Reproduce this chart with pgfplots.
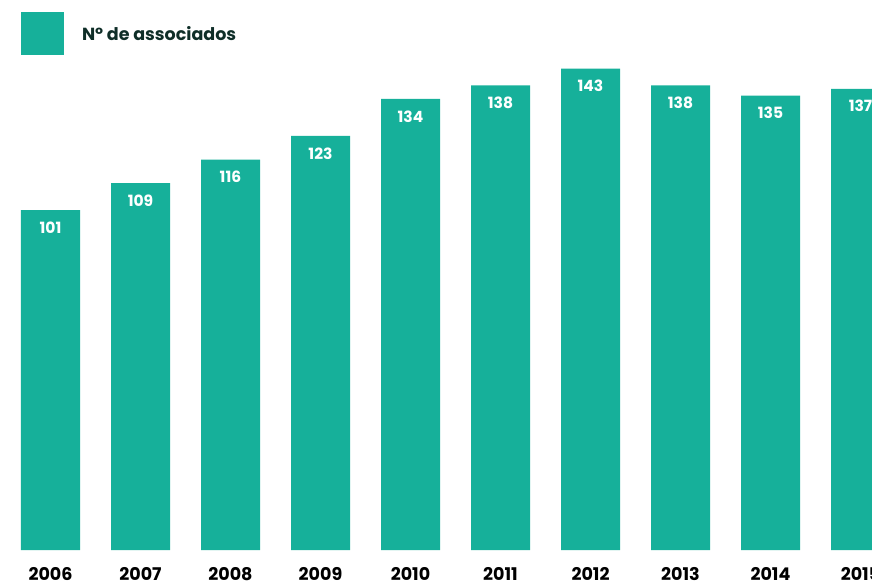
\documentclass[border=0pt]{standalone}
\usepackage{fontspec}
\setmainfont{Poppins}
\usepackage{pgfplots}
\pgfplotsset{compat=1.18}
\definecolor{barteal}{HTML}{16B09A}
\definecolor{legtext}{HTML}{0F2E28}

\begin{document}
\begin{tikzpicture}
  % frame of the (cropped) reference, 1pt = 1px
  \useasboundingbox (0,0) rectangle (872pt,586pt);
  \clip (0,0) rectangle (872pt,586pt);
  \begin{axis}[
    at={(50.5pt,36pt)}, anchor=origin,
    x=90pt, y=3.366pt,
    xmin=-0.6, xmax=9.6,
    ymin=0, ymax=150,
    ybar, bar width=59pt,
    axis line style={draw=none},
    major tick style={draw=none},
    ytick=\empty,
    xtick=data,
    xticklabels={2006,2007,2008,2009,2010,2011,2012,2013,2014,2015},
    xticklabel style={font=\fontsize{17.5}{20}\selectfont\bfseries, anchor=north,
      inner sep=0pt, yshift=-12.5pt, text=black},
    /pgf/number format/assume math mode=true,
    nodes near coords,
    every node near coord/.append style={font=\fontsize{15.5}{18}\selectfont\bfseries, text=white, anchor=north, yshift=-8pt},
    clip=false,
    legend style={at={(0.0267,1.065)}, anchor=north west, draw=none, fill=none,
      inner sep=0pt, outer sep=0pt,
      font=\fontsize{17.5}{20}\selectfont\bfseries, text=legtext,
      /tikz/every odd column/.append style={column sep=16pt}},
    legend image code/.code={\fill[barteal] (0pt,-21.5pt) rectangle (43pt,21.5pt);},
    legend cell align=left,
  ]
    \addplot[fill=barteal, draw=none] coordinates {
      (0,101) (1,109) (2,116) (3,123) (4,134)
      (5,138) (6,143) (7,138) (8,135) (9,137)
    };
    \addlegendentry{Nº de associados}
  \end{axis}
\end{tikzpicture}
\end{document}
